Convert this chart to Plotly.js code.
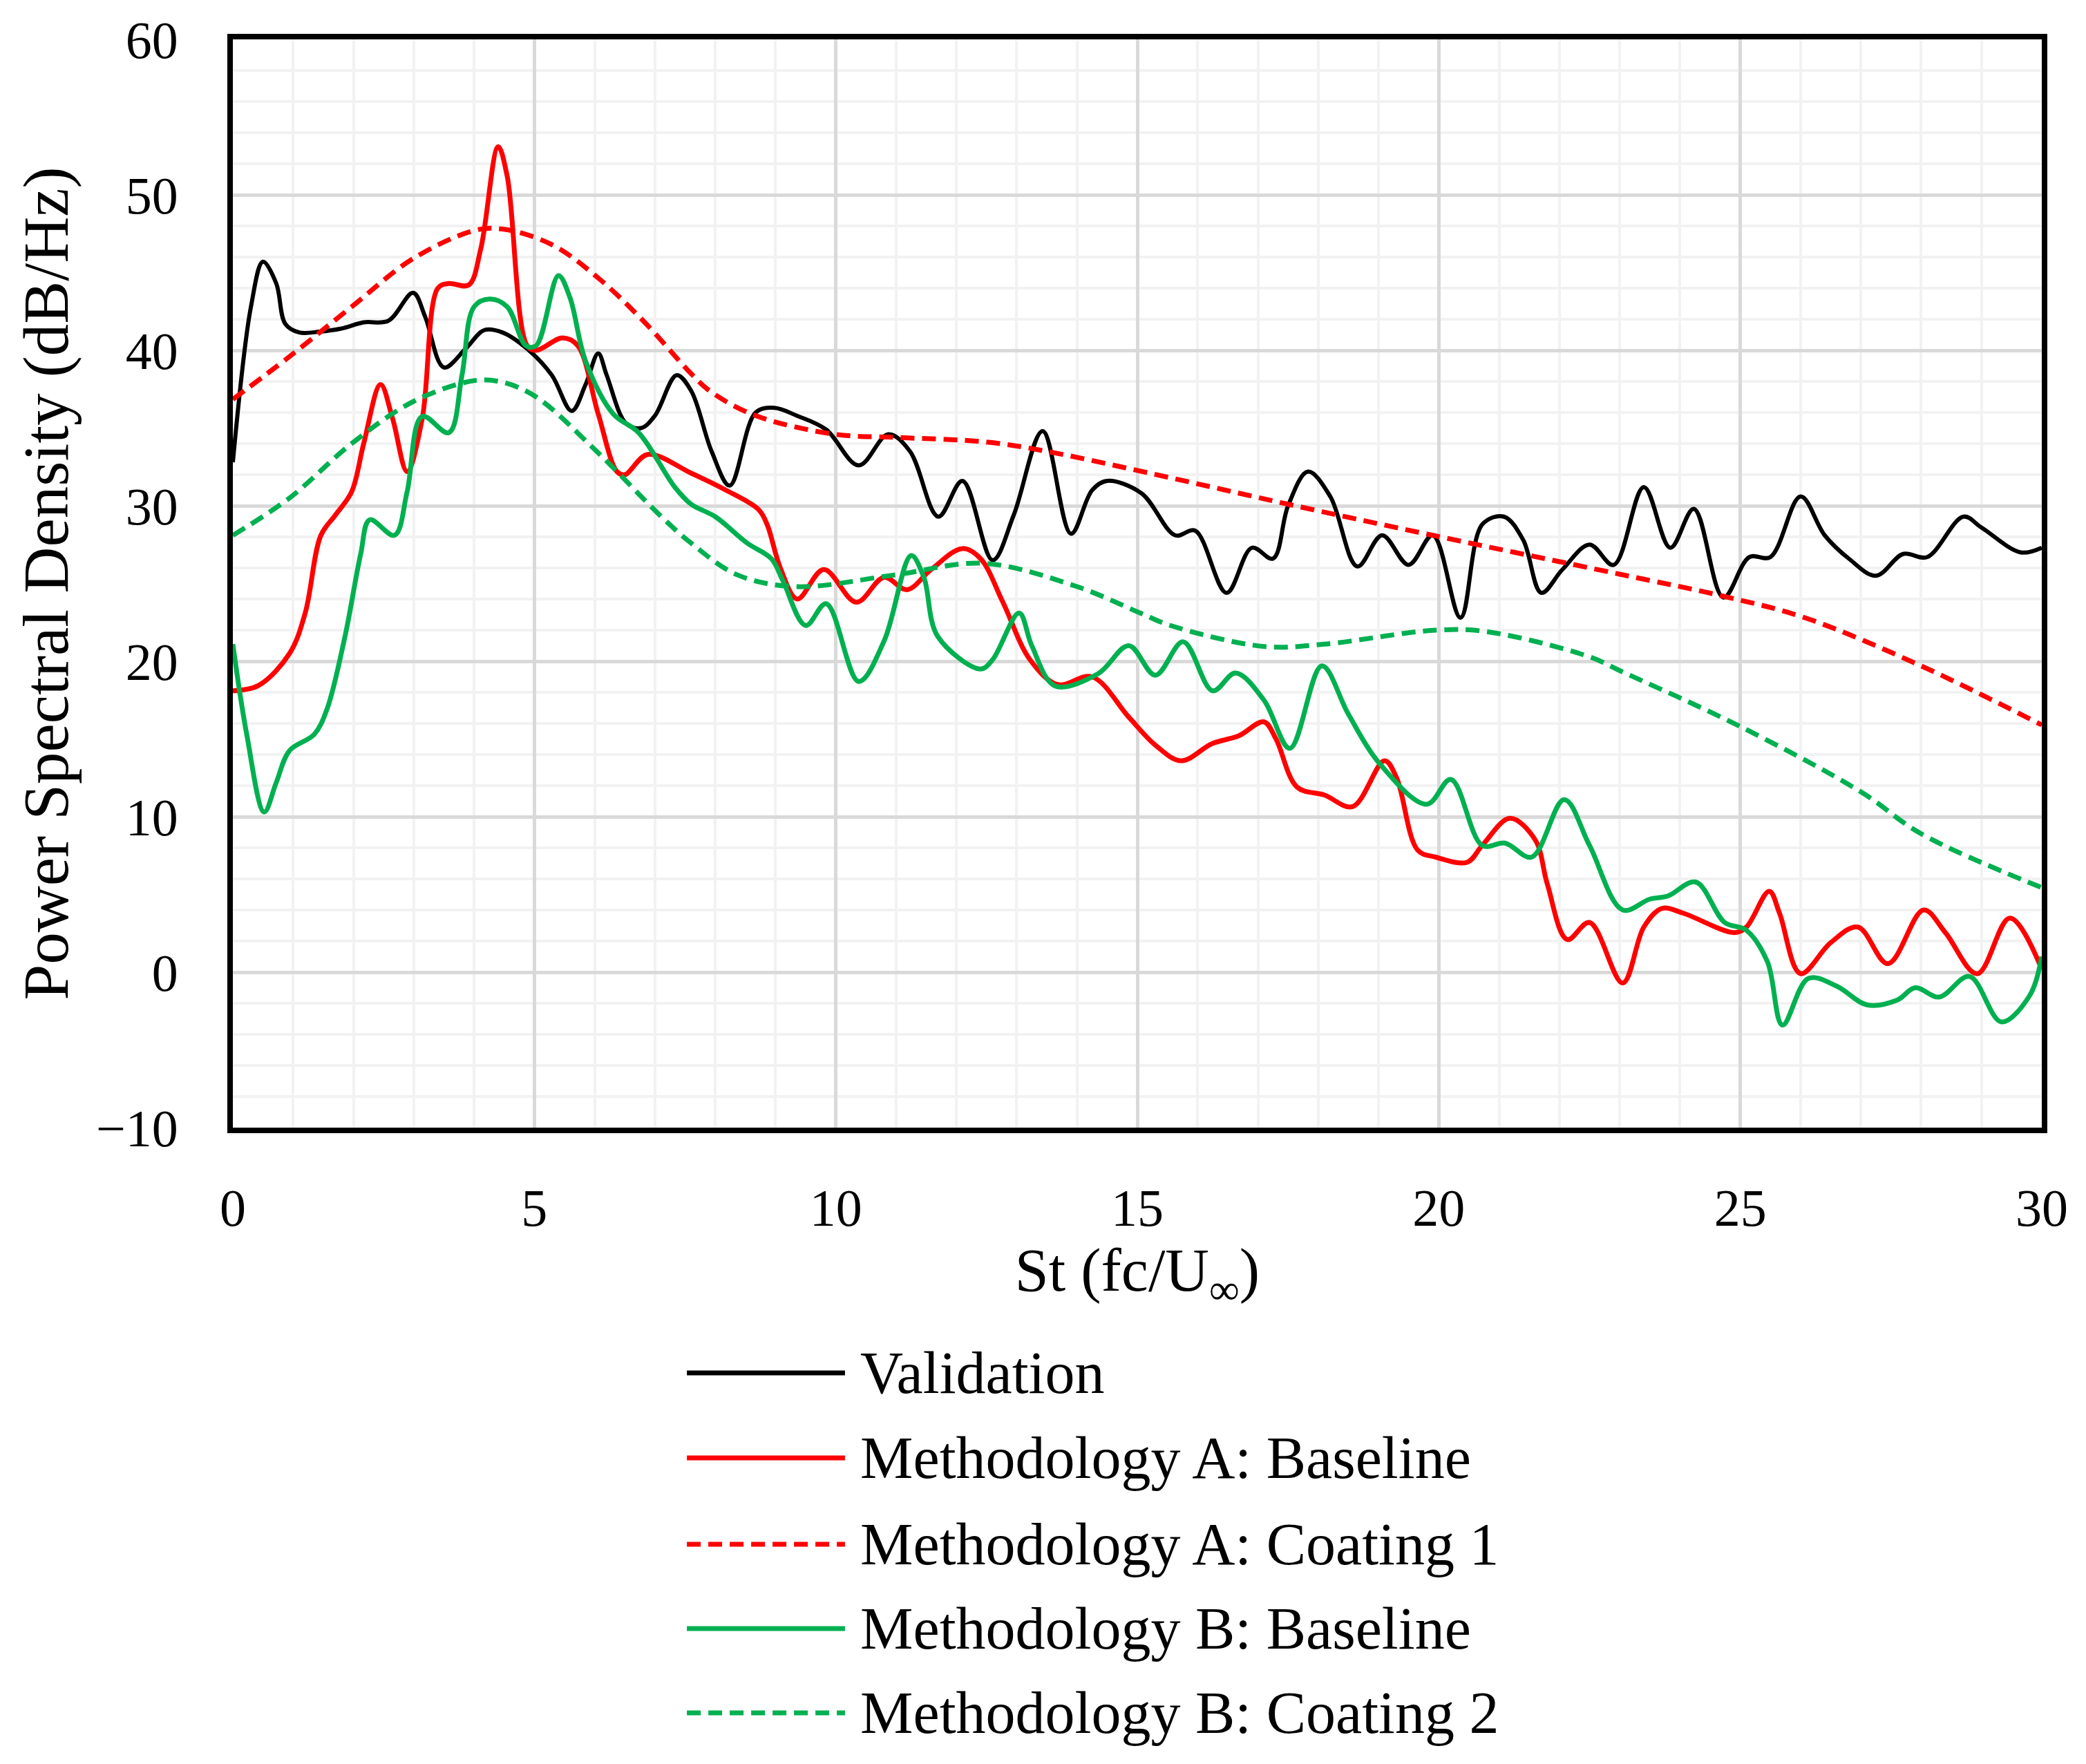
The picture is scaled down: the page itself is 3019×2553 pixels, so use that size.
<!DOCTYPE html>
<html>
<head>
<meta charset="utf-8">
<script src="https://cdn.plot.ly/plotly-3.0.1.min.js"></script>
<style>
html,body{margin:0;padding:0;background:#fff;}
#chart{width:3019px;height:2553px;}
</style>
</head>
<body>
<div id="chart"></div>
<script>
// ---- Data ----
var seriesNames = [
  "Validation",
  "Methodology A: Baseline",
  "Methodology A: Coating 1",
  "Methodology B: Baseline",
  "Methodology B: Coating 2"
];

var valX = [0,0.3,0.5,0.72,0.87,1.1,1.44,1.8,2.17,2.58,2.99,3.19,3.5,3.86,4.17,4.47,4.88,5.29,5.62,5.85,6.06,6.2,6.52,6.77,7.0,7.36,7.6,7.94,8.24,8.67,8.98,9.35,9.84,10.38,10.87,11.23,11.7,12.1,12.6,12.95,13.43,13.9,14.25,14.5,15.07,15.63,15.96,16.48,16.9,17.25,17.5,17.83,18.2,18.65,19.06,19.5,19.9,20.36,20.72,21.08,21.4,21.7,22.05,22.5,22.9,23.4,23.84,24.23,24.72,25.15,25.5,26.0,26.4,26.8,27.25,27.7,28.1,28.7,29.0,29.65,30.0];
var valY = [32.8,42.8,45.7,44.3,41.7,41.15,41.2,41.4,41.8,41.9,43.7,42.15,38.9,40.1,41.3,41.15,40.1,38.4,36.1,37.8,39.8,38.4,35.3,35.0,35.8,38.4,37.4,33.5,31.3,36.0,36.3,35.8,34.9,32.6,34.6,33.5,29.3,31.6,26.5,29.4,34.8,28.2,31.0,31.6,30.8,28.1,28.4,24.4,27.3,26.6,30.0,32.2,30.6,26.1,28.1,26.2,28.1,22.8,28.8,29.3,27.8,24.4,25.9,27.5,26.2,31.2,27.3,29.8,24.1,26.7,26.7,30.6,28.1,26.6,25.5,26.9,26.7,29.3,28.6,27.0,27.3];

var aBaseX = [0,0.43,0.94,1.2,1.46,1.7,1.97,2.17,2.45,2.65,2.89,3.14,3.4,3.58,3.91,4.11,4.4,4.55,4.88,5.03,5.47,5.72,6.06,6.37,6.5,6.88,7.6,8.18,8.72,8.86,9.08,9.36,9.8,10.34,10.8,11.18,11.58,12.1,12.4,12.77,13.22,13.68,14.25,14.86,15.3,15.73,16.24,16.68,17.1,17.3,17.65,18.1,18.57,19.1,19.3,19.65,19.95,20.47,20.72,21.18,21.6,21.8,22.13,22.5,23.05,23.4,23.7,24.05,24.9,25.1,25.48,25.65,26.0,26.5,26.95,27.45,28.04,28.4,28.93,29.47,30.0];
var aBaseY = [18.1,18.45,20.5,23.1,28.1,29.4,30.9,34.0,37.8,35.6,32.2,35.6,44.0,44.3,44.2,46.5,53.1,51.2,40.3,40.0,40.8,40.3,35.9,32.2,32.0,33.3,32.1,31.0,29.75,28.8,26.0,24.0,25.9,23.8,25.4,24.6,25.9,27.25,26.6,23.8,20.1,18.5,19.0,16.4,14.6,13.6,14.7,15.2,16.1,15.0,11.9,11.4,10.65,13.6,12.5,7.85,7.4,7.07,8.15,9.9,8.5,5.66,2.1,3.2,-0.7,2.9,4.1,3.8,2.55,2.9,5.2,3.8,-0.09,1.9,2.9,0.55,4.0,2.55,-0.1,3.48,0.2];

var aCoatX = [0,0.94,1.97,2.99,4.0,4.47,5.29,6.06,6.83,7.6,7.94,8.67,9.98,11.0,12.5,13.5,15.55,17.5,19.9,23.0,24.7,26.07,28.0,30.0];
var aCoatY = [36.85,39.6,42.8,45.9,47.7,47.8,46.8,44.65,41.8,38.5,37.3,35.8,34.6,34.4,34.1,33.5,31.8,30.1,28.1,25.6,24.2,22.8,19.7,15.9];

var bBaseX = [0,0.23,0.52,0.72,0.94,1.35,1.56,1.86,2.12,2.27,2.68,2.89,3.14,3.58,3.8,4.0,4.26,4.55,4.86,5.03,5.4,5.59,5.85,6.31,6.73,7.33,7.6,8.0,8.53,8.93,9.12,9.5,9.84,10.38,10.8,11.25,11.46,11.69,12.4,12.6,13.04,13.25,13.64,14.35,14.86,15.3,15.76,16.25,16.63,17.1,17.53,18.06,18.5,19.0,19.8,20.2,20.72,21.1,21.54,22.08,22.5,23.05,23.5,23.8,24.26,24.74,25.1,25.45,25.7,26.13,26.6,27.1,27.6,27.9,28.3,28.8,29.33,29.8,30.0];
var bBaseY = [21.1,15.3,10.3,12.2,14.25,15.3,16.9,21.6,26.9,29.1,28.1,30.9,35.75,34.7,38.4,42.8,43.3,42.8,40.3,40.3,44.8,43.4,39.3,35.9,34.7,31.2,30.1,29.3,27.6,26.6,25.2,22.3,23.7,18.7,21.3,26.8,25.4,21.6,19.5,20.1,23.1,21.0,18.4,19.2,21.0,19.1,21.25,18.1,19.24,17.5,14.4,19.7,16.6,13.5,10.8,12.4,8.15,8.3,7.4,11.1,8.15,4.0,4.7,4.9,5.8,3.2,2.7,0.67,-3.4,-0.4,-0.9,-2.1,-1.8,-1.0,-1.6,-0.27,-3.2,-1.5,1.0];

var bCoatX = [0,0.94,1.97,2.99,4.0,4.47,5.03,6.06,7.08,7.6,8.37,9.35,10.97,12.45,14.0,15.05,15.55,17.1,18.1,19.95,20.8,22.49,23.0,25.0,27.0,28.0,30.0];
var bCoatY = [28.1,30.5,34.0,36.7,38.05,37.95,37.0,33.4,29.4,27.6,25.55,24.8,25.55,26.3,24.8,23.1,22.3,20.95,21.1,22.0,21.9,20.3,19.4,15.8,11.6,8.9,5.44];

var xTicks = [0,5,10,15,20,25,30];
var yTicks = [-10,0,10,20,30,40,50,60];

// ---- Styles ----
var RED = "#FF0000", GREEN = "#00B050", BLACK = "#000000";
var FONT = "Liberation Serif, Times New Roman, serif";
var DASH = "20px,11px";
var styles = [
  {color: BLACK, width: 6, dash: "solid"},
  {color: RED, width: 7, dash: "solid"},
  {color: RED, width: 7, dash: DASH},
  {color: GREEN, width: 7, dash: "solid"},
  {color: GREEN, width: 7, dash: DASH}
];
var xs = [valX, aBaseX, aCoatX, bBaseX, bCoatX];
var ys = [valY, aBaseY, aCoatY, bBaseY, bCoatY];

var traces = [];
for (var i = 0; i < seriesNames.length; i++) {
  traces.push({
    type: "scatter", mode: "lines", name: seriesNames[i],
    x: xs[i], y: ys[i], showlegend: false, hoverinfo: "skip",
    line: {color: styles[i].color, width: styles[i].width, dash: styles[i].dash, shape: "spline", smoothing: 1}
  });
}

// ---- Custom legend (long sample lines, as in the reference) ----
var legRows = [-0.2254, -0.3035, -0.3829, -0.4603, -0.5378];
var shapes = [], annotations = [];
for (var j = 0; j < seriesNames.length; j++) {
  shapes.push({
    type: "line", xref: "paper", yref: "paper",
    x0: 0.251, x1: 0.3384, y0: legRows[j], y1: legRows[j],
    line: {color: styles[j].color, width: 7, dash: styles[j].dash}
  });
  annotations.push({
    xref: "paper", yref: "paper", x: 0.3462, y: legRows[j],
    xanchor: "left", yanchor: "middle", showarrow: false,
    text: seriesNames[j], font: {family: FONT, size: 86, color: BLACK}
  });
}

var layout = {
  width: 3019, height: 2553,
  margin: {l: 337, r: 64, t: 57, b: 921},
  paper_bgcolor: "#ffffff", plot_bgcolor: "#ffffff",
  font: {family: FONT, color: BLACK},
  showlegend: false,
  xaxis: {
    range: [0, 30], tickvals: xTicks, ticktext: xTicks.map(String),
    showgrid: true, gridcolor: "#D9D9D9", gridwidth: 5,
    minor: {dtick: 1, showgrid: true, gridcolor: "#F2F2F2", gridwidth: 4, ticks: ""},
    zeroline: false, showline: true, mirror: true, linecolor: BLACK, linewidth: 8,
    ticks: "", ticklabelstandoff: 43,
    tickfont: {family: FONT, size: 76, color: BLACK},
    title: {text: "St (fc/U<sub>∞</sub>)", font: {family: FONT, size: 88, color: BLACK}, standoff: 18}
  },
  yaxis: {
    range: [-10, 60], tickvals: yTicks, ticktext: yTicks.map(function(v){return v < 0 ? "\u2212" + Math.abs(v) : String(v);}),
    showgrid: true, gridcolor: "#D9D9D9", gridwidth: 5,
    minor: {dtick: 2, showgrid: true, gridcolor: "#F2F2F2", gridwidth: 4, ticks: ""},
    zeroline: false, showline: true, mirror: true, linecolor: BLACK, linewidth: 8,
    ticks: "", ticklabelstandoff: 56,
    tickfont: {family: FONT, size: 76, color: BLACK},
    title: {text: "Power Spectral Density (dB/Hz)", font: {family: FONT, size: 93, color: BLACK}, standoff: 12}
  },
  shapes: shapes,
  annotations: annotations
};

Plotly.newPlot("chart", traces, layout, {staticPlot: true, displayModeBar: false});
</script>
</body>
</html>
